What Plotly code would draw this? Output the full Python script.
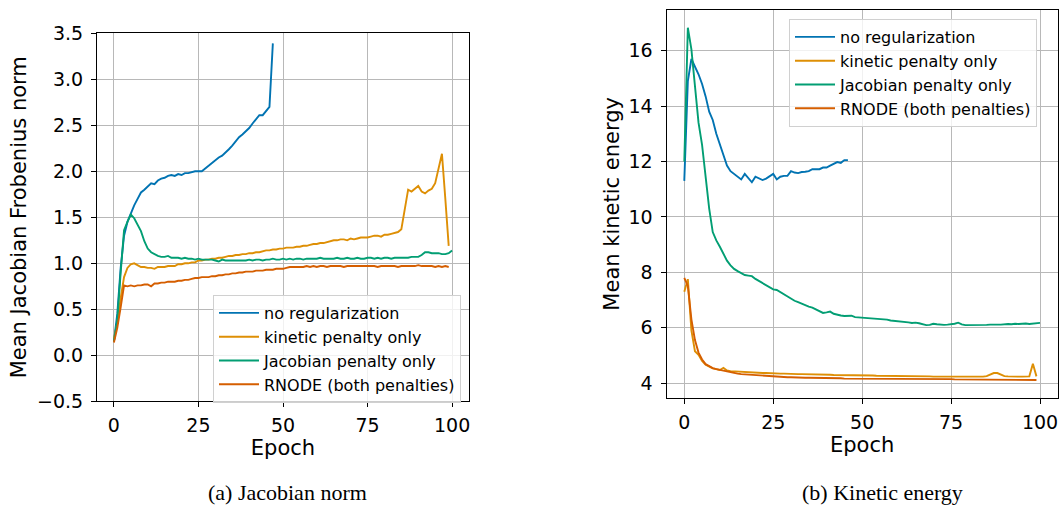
import plotly.graph_objects as go

# ---------------- data ----------------
labels = ["no regularization", "kinetic penalty only", "Jacobian penalty only", "RNODE (both penalties)"]
colors = ["#0173b2", "#de8f05", "#029e73", "#d55e00"]

# (a) Jacobian norm
jac_noreg = [0.15, 0.45, 0.95, 1.30, 1.45, 1.55, 1.63, 1.70, 1.77, 1.80,
             1.83, 1.87, 1.86, 1.90, 1.92, 1.93, 1.95, 1.96, 1.95, 1.97,
             1.96, 1.98, 1.98, 1.99, 2.00, 2.00, 2.00, 2.03, 2.06, 2.09,
             2.13, 2.15, 2.17, 2.20, 2.24, 2.28, 2.33, 2.37, 2.40, 2.43,
             2.47, 2.52, 2.57, 2.61, 2.61, 2.66, 2.70, 3.39]
jac_kinetic = [0.18, 0.35, 0.62, 0.85, 0.95, 0.99, 1.00, 0.98, 0.96, 0.96,
               0.95, 0.95, 0.94, 0.96, 0.96, 0.96, 0.97, 0.97, 0.97, 0.99,
               0.99, 1.00, 1.00, 1.01, 1.01, 1.03, 1.03, 1.04, 1.04, 1.05,
               1.05, 1.06, 1.06, 1.07, 1.08, 1.08, 1.09, 1.09, 1.10, 1.10,
               1.11, 1.11, 1.12, 1.12, 1.13, 1.14, 1.14, 1.15, 1.15, 1.16,
               1.16, 1.17, 1.17, 1.17, 1.18, 1.18, 1.19, 1.19, 1.20, 1.21,
               1.21, 1.22, 1.22, 1.23, 1.24, 1.25, 1.25, 1.26, 1.26, 1.25,
               1.27, 1.26, 1.27, 1.28, 1.28, 1.28, 1.29, 1.30, 1.30, 1.29,
               1.31, 1.31, 1.32, 1.33, 1.34, 1.37, 1.58, 1.80, 1.78, 1.81,
               1.84, 1.78, 1.76, 1.79, 1.81, 1.87, 2.03, 2.19, 1.70, 1.19]
jac_jacobian = [0.15, 0.38, 0.90, 1.36, 1.45, 1.53, 1.49, 1.42, 1.35, 1.24,
                1.16, 1.12, 1.10, 1.08, 1.07, 1.07, 1.08, 1.06, 1.06, 1.06,
                1.05, 1.06, 1.05, 1.05, 1.04, 1.05, 1.04, 1.04, 1.04, 1.04,
                1.03, 1.02, 1.04, 1.03, 1.03, 1.03, 1.03, 1.03, 1.03, 1.03,
                1.04, 1.03, 1.04, 1.04, 1.03, 1.04, 1.04, 1.05, 1.04, 1.04,
                1.05, 1.04, 1.05, 1.04, 1.05, 1.05, 1.04, 1.05, 1.05, 1.05,
                1.05, 1.06, 1.05, 1.05, 1.05, 1.05, 1.06, 1.05, 1.05, 1.06,
                1.05, 1.05, 1.06, 1.05, 1.05, 1.06, 1.06, 1.05, 1.06, 1.05,
                1.06, 1.06, 1.05, 1.06, 1.06, 1.06, 1.06, 1.06, 1.07, 1.07,
                1.07, 1.09, 1.12, 1.12, 1.11, 1.11, 1.11, 1.10, 1.10, 1.11,
                1.14]
jac_rnode = [0.14, 0.30, 0.52, 0.76, 0.75, 0.76, 0.75, 0.76, 0.76, 0.77,
             0.77, 0.75, 0.78, 0.78, 0.79, 0.79, 0.80, 0.80, 0.80, 0.81,
             0.81, 0.82, 0.82, 0.83, 0.84, 0.84, 0.85, 0.85, 0.85, 0.86,
             0.86, 0.87, 0.87, 0.88, 0.88, 0.89, 0.89, 0.90, 0.90, 0.91,
             0.91, 0.91, 0.92, 0.92, 0.92, 0.93, 0.93, 0.93, 0.94, 0.94,
             0.94, 0.95, 0.96, 0.96, 0.96, 0.96, 0.96, 0.97, 0.96, 0.97,
             0.96, 0.97, 0.97, 0.96, 0.97, 0.97, 0.97, 0.97, 0.96, 0.97,
             0.97, 0.97, 0.97, 0.97, 0.97, 0.97, 0.97, 0.97, 0.96, 0.97,
             0.97, 0.97, 0.97, 0.97, 0.96, 0.97, 0.97, 0.97, 0.97, 0.97,
             0.98, 0.97, 0.97, 0.97, 0.97, 0.96, 0.97, 0.96, 0.97, 0.96]

# (b) Kinetic energy
ke_noreg = [11.30, 14.90, 15.70, 15.45, 15.15, 14.80, 14.35, 13.80, 13.50, 13.00,
            12.60, 12.20, 11.85, 11.65, 11.55, 11.42, 11.35, 11.55, 11.40, 11.25,
            11.45, 11.38, 11.33, 11.38, 11.45, 11.55, 11.35, 11.45, 11.48, 11.48,
            11.65, 11.60, 11.58, 11.62, 11.63, 11.65, 11.72, 11.73, 11.72, 11.78,
            11.78, 11.85, 11.92, 11.98, 11.95, 12.05, 12.05]
ke_kinetic = [7.30, 7.75, 5.90, 5.15, 5.02, 4.80, 4.66, 4.58, 4.53, 4.50,
              4.47, 4.55, 4.45, 4.43, 4.42, 4.41, 4.40, 4.40, 4.39, 4.38,
              4.37, 4.37, 4.36, 4.36, 4.35, 4.35, 4.34, 4.34, 4.34, 4.33,
              4.33, 4.33, 4.32, 4.32, 4.32, 4.31, 4.31, 4.31, 4.30, 4.30,
              4.30, 4.30, 4.29, 4.29, 4.29, 4.29, 4.28, 4.28, 4.28, 4.28,
              4.27, 4.27, 4.27, 4.27, 4.26, 4.26, 4.26, 4.26, 4.26, 4.25,
              4.25, 4.25, 4.25, 4.25, 4.24, 4.24, 4.24, 4.24, 4.24, 4.24,
              4.23, 4.23, 4.23, 4.23, 4.23, 4.23, 4.23, 4.23, 4.22, 4.22,
              4.22, 4.22, 4.22, 4.22, 4.23, 4.25, 4.30, 4.36, 4.36, 4.30,
              4.25, 4.24, 4.23, 4.23, 4.23, 4.23, 4.23, 4.24, 4.70, 4.24]
ke_jacobian = [12.00, 16.83, 16.05, 14.70, 13.40, 12.60, 11.50, 10.30, 9.45, 9.15,
               8.92, 8.65, 8.42, 8.25, 8.12, 8.04, 7.98, 7.90, 7.88, 7.86,
               7.76, 7.68, 7.60, 7.52, 7.45, 7.38, 7.36, 7.28, 7.20, 7.14,
               7.05, 6.97, 6.92, 6.86, 6.80, 6.76, 6.72, 6.66, 6.58, 6.53,
               6.55, 6.58, 6.50, 6.46, 6.44, 6.42, 6.42, 6.43, 6.38, 6.37,
               6.35, 6.36, 6.34, 6.33, 6.32, 6.31, 6.29, 6.29, 6.26, 6.25,
               6.22, 6.21, 6.20, 6.19, 6.17, 6.18, 6.16, 6.12, 6.09, 6.10,
               6.14, 6.12, 6.10, 6.10, 6.11, 6.12, 6.14, 6.18, 6.12, 6.09,
               6.09, 6.08, 6.09, 6.10, 6.10, 6.10, 6.11, 6.10, 6.11, 6.11,
               6.13, 6.13, 6.12, 6.14, 6.13, 6.14, 6.15, 6.13, 6.14, 6.15,
               6.17]
ke_rnode = [7.80, 7.50, 6.30, 5.55, 5.10, 4.85, 4.68, 4.60, 4.54, 4.50,
            4.47, 4.44, 4.41, 4.38, 4.36, 4.34, 4.32, 4.31, 4.30, 4.29,
            4.28, 4.27, 4.26, 4.25, 4.24, 4.23, 4.23, 4.22, 4.22, 4.21,
            4.21, 4.20, 4.20, 4.20, 4.19, 4.19, 4.19, 4.18, 4.18, 4.18,
            4.18, 4.17, 4.17, 4.17, 4.17, 4.16, 4.16, 4.16, 4.16, 4.16,
            4.15, 4.15, 4.15, 4.15, 4.15, 4.15, 4.15, 4.15, 4.15, 4.15,
            4.15, 4.14, 4.14, 4.14, 4.14, 4.14, 4.14, 4.14, 4.14, 4.14,
            4.14, 4.14, 4.14, 4.14, 4.14, 4.14, 4.13, 4.13, 4.13, 4.13,
            4.13, 4.13, 4.13, 4.13, 4.13, 4.13, 4.12, 4.12, 4.12, 4.12,
            4.12, 4.12, 4.12, 4.11, 4.11, 4.11, 4.11, 4.11, 4.11, 4.11]

x_ticks = [0, 25, 50, 75, 100]
jac_yticks = [-0.5, 0.0, 0.5, 1.0, 1.5, 2.0, 2.5, 3.0, 3.5]
ke_yticks = [4, 6, 8, 10, 12, 14, 16]
captions = ["(a) Jacobian norm", "(b) Kinetic energy"]
x_title = "Epoch"
y_titles = ["Mean Jacobian Frobenius norm", "Mean kinetic energy"]

# ---------------- figure ----------------
W, H = 1060, 506
FONT = "DejaVu Sans"
fig = go.Figure()

left_series = [jac_noreg, jac_kinetic, jac_jacobian, jac_rnode]
right_series = [ke_noreg, ke_kinetic, ke_jacobian, ke_rnode]

for i, ys in enumerate(left_series):
    fig.add_trace(go.Scatter(
        x=list(range(len(ys))), y=ys, mode="lines", name=labels[i],
        line=dict(color=colors[i], width=1.9), xaxis="x", yaxis="y",
        legend="legend"))
for i, ys in enumerate(right_series):
    fig.add_trace(go.Scatter(
        x=list(range(len(ys))), y=ys, mode="lines", name=labels[i],
        line=dict(color=colors[i], width=1.9), xaxis="x2", yaxis="y2",
        legend="legend2"))

ax_common = dict(
    showline=True, linecolor="black", linewidth=1, mirror=True,
    ticks="outside", ticklen=5, tickwidth=1, tickcolor="black",
    showgrid=True, gridcolor="#b8b8b8", gridwidth=1, zeroline=False,
    tickfont=dict(family=FONT, size=19, color="black"),
    automargin=False, ticklabeloverflow="allow",
)

def px_x(a, b):
    return [a / W, b / W]

def px_y(top, bottom):
    return [1 - bottom / H, 1 - top / H]

leg_common = dict(xanchor="left", yanchor="top", itemwidth=40,
                  bgcolor="rgba(255,255,255,0.8)", bordercolor="#d0d0d0", borderwidth=1,
                  font=dict(family=FONT, size=16, color="black"))

fig.update_layout(
    template="none",
    width=W, height=H, autosize=False,
    margin=dict(l=0, r=0, t=0, b=0, pad=0),
    paper_bgcolor="white", plot_bgcolor="white",
    font=dict(family=FONT, color="black"),
    xaxis=dict(domain=px_x(97, 469), range=[-5, 105], tickvals=x_ticks,
               title=dict(text=x_title, font=dict(size=21), standoff=5),
               anchor="y", ticklabelstandoff=2, **ax_common),
    yaxis=dict(domain=px_y(33.3, 401.3), range=[-0.5, 3.5], tickvals=jac_yticks,
               tickformat=".1f", ticklabelstandoff=4,
               title=dict(text=y_titles[0], font=dict(size=21), standoff=4),
               anchor="x", **ax_common),
    xaxis2=dict(domain=px_x(666.5, 1057.8), range=[-5, 105], tickvals=x_ticks,
                title=dict(text=x_title, font=dict(size=21), standoff=5),
                anchor="y2", ticklabelstandoff=2, **ax_common),
    yaxis2=dict(domain=px_y(10, 397.7), range=[3.47, 17.47], tickvals=ke_yticks,
                ticklabelstandoff=4,
                title=dict(text=y_titles[1], font=dict(size=21), standoff=3),
                anchor="x2", **ax_common),
    legend=dict(x=213 / W, y=1 - 295 / H, **leg_common),
    legend2=dict(x=789 / W, y=1 - 19 / H, **leg_common),
    annotations=[
        dict(text=captions[0], x=287.5 / W, y=1 - 492 / H, xref="paper", yref="paper",
             xanchor="center", yanchor="middle", showarrow=False,
             font=dict(family="Liberation Serif", size=22, color="black")),
        dict(text=captions[1], x=882 / W, y=1 - 492 / H, xref="paper", yref="paper",
             xanchor="center", yanchor="middle", showarrow=False,
             font=dict(family="Liberation Serif", size=22, color="black")),
    ],
)

fig.write_html("out.html", config={"displayModeBar": False},
               post_script="document.body.style.margin='0';document.body.style.overflow='hidden';")
